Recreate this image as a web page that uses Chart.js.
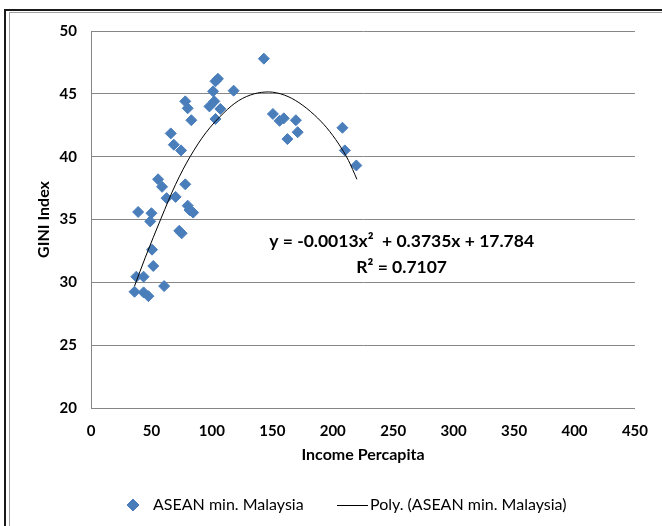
<!DOCTYPE html>
<html>
<head>
<meta charset="utf-8">
<script src="https://cdn.jsdelivr.net/npm/chart.js@4"></script>
<style>
    html, body { margin: 0; padding: 0; background: #fff; overflow: hidden; }
    #wrap { position: relative; width: 662px; height: 526px; overflow: hidden; }
    .outer { position: absolute; left: 4px; top: 9px; width: 720px; height: 600px; border: 2px solid #1a1a1a; }
    .inner { position: absolute; left: 9px; top: 12px; width: 720px; height: 600px; border: 1px solid #a0a0a0; }
    canvas { position: absolute; left: 0; top: 0; }
</style>
</head>
<body>
<div id="wrap">
    <div class="outer"></div>
    <div class="inner"></div>
    <canvas id="chart" width="662" height="526"></canvas>
</div>
<script>
// Scatter points
const income = [143, 103, 105, 118, 101, 102, 98, 107, 103, 78, 80, 83, 66, 68.5, 74.5,
    150.5, 156, 159.5, 169.5, 171, 162.5, 208, 210, 219.5, 55.5, 58.8, 62.5, 70, 78,
    39, 50, 49, 80, 81.5, 84.5, 73, 75, 50.5, 51.5, 37.5, 43.5, 36, 43.5, 47.5, 60.5];
const gini = [47.8, 46.0, 46.2, 45.25, 45.2, 44.4, 44.0, 43.8, 43.0, 44.4, 43.85, 42.9, 41.85, 40.95, 40.5,
    43.4, 42.85, 43.05, 42.9, 41.95, 41.4, 42.3, 40.5, 39.3, 38.2, 37.6, 36.7, 36.8, 37.8,
    35.6, 35.5, 34.85, 36.1, 35.75, 35.55, 34.1, 33.9, 32.6, 31.3, 30.45, 30.45, 29.25, 29.2, 28.9, 29.7];

// Trend line
const trendX = [36, 45, 58, 70, 82, 95, 110, 122, 135, 147, 160, 172, 185, 195, 205, 213, 220];
const trendY = [29.7, 32.0, 35.1, 37.8, 40.0, 41.9, 43.5, 44.45, 45.0, 45.15, 44.9, 44.3, 43.3, 42.3, 41.0, 39.7, 38.2];

const xTicks = [0, 50, 100, 150, 200, 250, 300, 350, 400, 450];
const yTicks = [20, 25, 30, 35, 40, 45, 50];

const seriesName = 'ASEAN min. Malaysia';
const trendName = 'Poly. (ASEAN min. Malaysia)';
const equation = ['y = -0.0013x\u00B2  + 0.3735x + 17.784', 'R\u00B2 = 0.7107'];
const eqPos = { x: 257, y: [33.3, 31.2] };

const blue = '#4a7ebb';
const gridGray = '#868686';
const tickFont = { family: 'Lato', size: 15, weight: 'bold' };
const titleFont = { family: 'Lato', size: 16, weight: 'bold' };

// Equation label drawn at data coordinates
const equationLabel = {
    id: 'equationLabel',
    afterDatasetsDraw(chart) {
        const ctx = chart.ctx;
        const xs = chart.scales.x, ys = chart.scales.y;
        ctx.save();
        ctx.font = 'bold 17.5px Lato';
        ctx.fillStyle = '#000';
        ctx.textAlign = 'center';
        ctx.textBaseline = 'middle';
        equation.forEach((line, i) => {
            ctx.fillText(line, xs.getPixelForValue(eqPos.x), ys.getPixelForValue(eqPos.y[i]));
        });
        ctx.restore();
    }
};

// Legend drawn by hand to match the spacing of the original
const bottomLegend = {
    id: 'bottomLegend',
    afterDraw(chart) {
        const ctx = chart.ctx;
        const y = 505;
        ctx.save();
        ctx.fillStyle = blue;
        ctx.strokeStyle = blue;
        Chart.helpers.drawPoint(ctx, { pointStyle: 'rectRot', radius: 6, borderWidth: 1 }, 133, y);
        ctx.strokeStyle = '#000';
        ctx.lineWidth = 1;
        ctx.beginPath();
        ctx.moveTo(337, y + 0.5);
        ctx.lineTo(368, y + 0.5);
        ctx.stroke();
        ctx.font = '16px Lato';
        ctx.fillStyle = '#000';
        ctx.textBaseline = 'middle';
        ctx.fillText(seriesName, 153, y);
        ctx.fillText(trendName, 370, y);
        ctx.restore();
    }
};

const ctx = document.getElementById('chart').getContext('2d');
new Chart(ctx, {
    type: 'scatter',
    data: {
        datasets: [
            {
                type: 'line',
                label: trendName,
                data: trendX.map((x, i) => ({ x: x, y: trendY[i] })),
                borderColor: '#000',
                borderWidth: 1,
                pointRadius: 0,
                cubicInterpolationMode: 'monotone',
                fill: false
            },
            {
                label: seriesName,
                data: income.map((x, i) => ({ x: x, y: gini[i] })),
                pointStyle: 'rectRot',
                pointRadius: 5.5,
                backgroundColor: blue,
                borderColor: blue,
                borderWidth: 1
            }
        ]
    },
    options: {
        responsive: false,
        animation: false,
        layout: { padding: { left: 30, right: 22, top: 31, bottom: 58 } },
        plugins: {
            legend: { display: false },
            tooltip: { enabled: false }
        },
        scales: {
            x: {
                type: 'linear',
                min: xTicks[0],
                max: xTicks[xTicks.length - 1],
                afterBuildTicks: s => { s.ticks = xTicks.map(v => ({ value: v })); },
                afterFit: s => { s.height = 60; },
                grid: { display: false, drawTicks: false },
                border: { color: gridGray },
                ticks: { padding: 14, color: '#000', font: tickFont, maxRotation: 0 },
                title: { display: true, text: 'Income Percapita', color: '#000', font: titleFont, padding: { top: 0, bottom: 3.4 } }
            },
            y: {
                min: yTicks[0],
                max: yTicks[yTicks.length - 1],
                afterBuildTicks: s => { s.ticks = yTicks.map(v => ({ value: v })); },
                afterFit: s => { s.width = 61; },
                grid: { color: gridGray, drawTicks: false },
                border: { color: gridGray },
                ticks: { padding: 14, color: '#000', font: tickFont },
                title: { display: true, text: 'GINI Index', color: '#000', font: titleFont, padding: { top: 4.4, bottom: 0 } }
            }
        }
    },
    plugins: [equationLabel, bottomLegend]
});
</script>
</body>
</html>
